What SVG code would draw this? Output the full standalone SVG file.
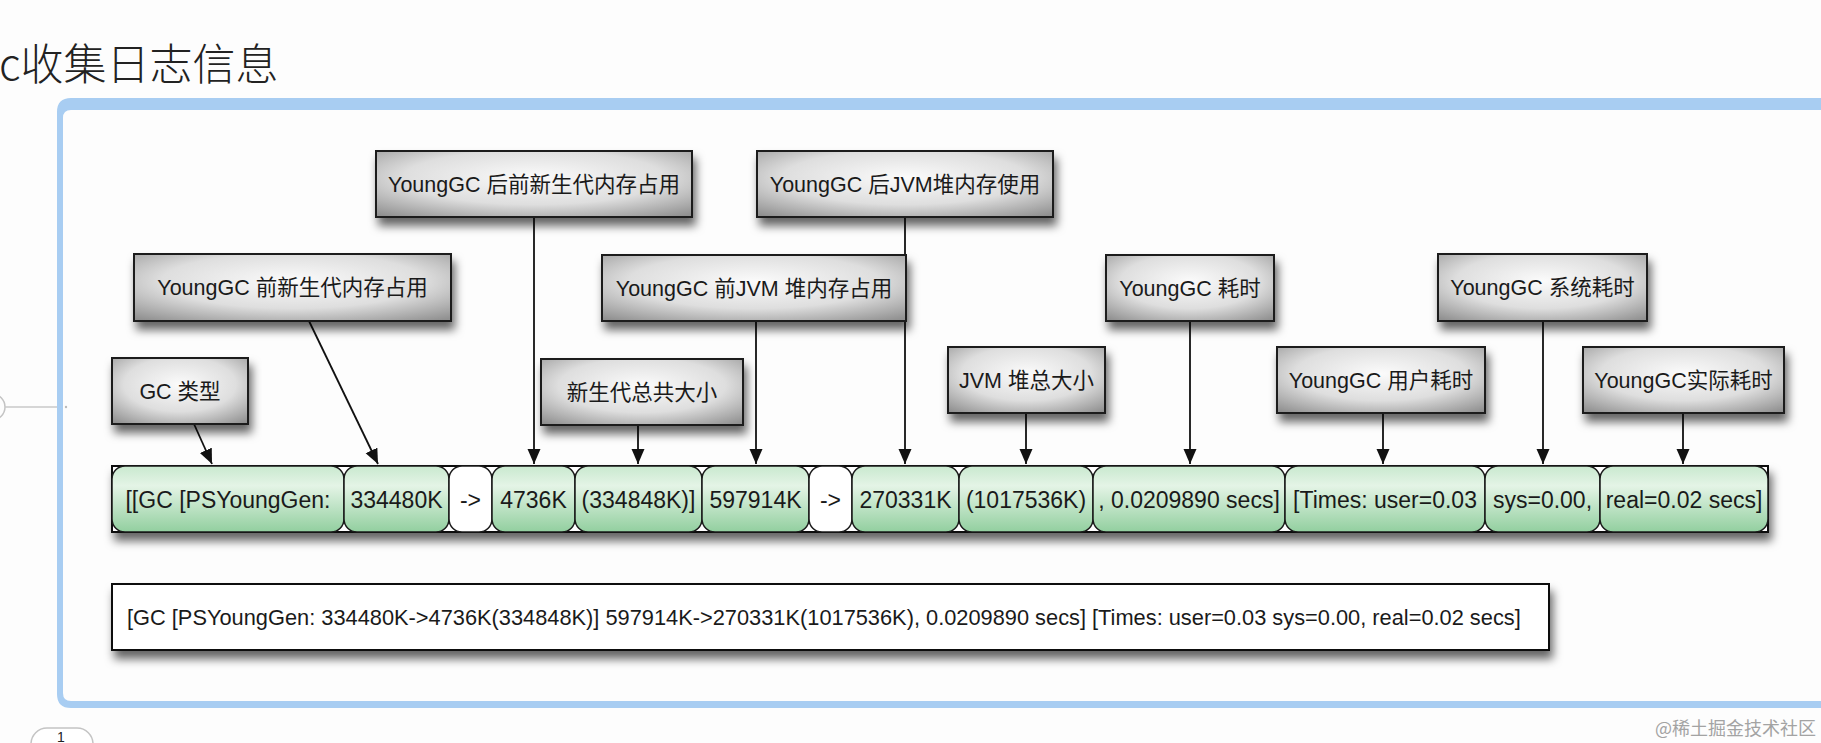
<svg xmlns="http://www.w3.org/2000/svg" width="1821" height="743" viewBox="0 0 1821 743">
<style>
.lbl{fill:url(#gray);stroke:#1a1a1a;stroke-width:2;filter:url(#sh)}
.lt{font-family:"Liberation Sans","Noto Sans CJK SC",sans-serif;font-size:21.5px;fill:#1a1a1a;text-anchor:middle}
.seg{fill:url(#green);stroke:#1a1a1a;stroke-width:1.5}
.segw{fill:#ffffff;stroke:#1a1a1a;stroke-width:1.5}
.st{font-family:"Liberation Sans","Noto Sans CJK SC",sans-serif;font-size:23px;fill:#1a1a1a;text-anchor:middle}
.conn line{stroke:#111;stroke-width:1.8;marker-end:url(#ah)}
</style>
<defs>
<radialGradient id="gray" cx="50%" cy="40%" r="75%">
<stop offset="0" stop-color="#fbfbfb"/>
<stop offset="0.55" stop-color="#dedede"/>
<stop offset="1" stop-color="#909090"/>
</radialGradient>
<linearGradient id="green" x1="0" y1="0" x2="0" y2="1">
<stop offset="0" stop-color="#c9e9cf"/>
<stop offset="0.3" stop-color="#e4f4e6"/>
<stop offset="1" stop-color="#92cf9f"/>
</linearGradient>
<filter id="sh" x="-10%" y="-20%" width="120%" height="160%">
<feDropShadow dx="3" dy="8" stdDeviation="5" flood-color="#000" flood-opacity="0.6"/>
</filter>
<marker id="ah" markerUnits="userSpaceOnUse" markerWidth="16" markerHeight="14" refX="15" refY="6.5" orient="auto">
<path d="M0,0 L15,6.5 L0,13 z" fill="#111"/>
</marker>
</defs>
<rect width="1821" height="743" fill="#fdfdfd"/>
<text x="-1" y="80" font-family="'Noto Sans CJK SC',sans-serif" font-weight="300" font-size="43" fill="#222">c收集日志信息</text>
<path fill="#a8cdf2" fill-rule="evenodd" d="M71,98 H1840 V708 H71 Q57,708 57,694 V112 Q57,98 71,98 Z M71,110 Q63,110 63,118 V693 Q63,701 71,701 H1834 V110 Z"/>
<circle cx="-8" cy="407" r="13" fill="none" stroke="#c4c4c4" stroke-width="1.5"/>
<line x1="5" y1="407" x2="57" y2="407" stroke="#c8c8c8" stroke-width="1.5"/>
<circle cx="66" cy="407" r="1.2" fill="#bbb"/>
<rect x="31" y="728" width="62" height="40" rx="16" fill="#fff" stroke="#c4c4c4" stroke-width="1.5"/>
<text x="61" y="742" font-family="'Liberation Sans',sans-serif" font-size="14" fill="#222" text-anchor="middle">1</text>
<text x="1655" y="735" font-family="'Noto Sans CJK SC',sans-serif" font-size="18" fill="#a3a3a3">@稀土掘金技术社区</text>

<g id="conns" class="conn">
<line x1="194" y1="424" x2="212" y2="464"/>
<line x1="309" y1="321" x2="378" y2="464"/>
<line x1="534" y1="217" x2="534" y2="464"/>
<line x1="638" y1="425" x2="638" y2="464"/>
<line x1="756" y1="321" x2="756" y2="464"/>
<line x1="905" y1="217" x2="905" y2="464"/>
<line x1="1026" y1="413" x2="1026" y2="464"/>
<line x1="1190" y1="321" x2="1190" y2="464"/>
<line x1="1383" y1="413" x2="1383" y2="464"/>
<line x1="1543" y1="321" x2="1543" y2="464"/>
<line x1="1683" y1="413" x2="1683" y2="464"/>
</g>

<g id="n-b1"><rect class="lbl" x="376" y="151" width="316" height="66"/><text class="lt" x="534" y="192">YoungGC 后前新生代内存占用</text></g>
<g id="n-b2"><rect class="lbl" x="757" y="151" width="296" height="66"/><text class="lt" x="905" y="192">YoungGC 后JVM堆内存使用</text></g>
<g id="n-b3"><rect class="lbl" x="134" y="254" width="317" height="67"/><text class="lt" x="292.5" y="295">YoungGC 前新生代内存占用</text></g>
<g id="n-b4"><rect class="lbl" x="602" y="255" width="304" height="66"/><text class="lt" x="754" y="296">YoungGC 前JVM 堆内存占用</text></g>
<g id="n-b5"><rect class="lbl" x="1106" y="255" width="168" height="66"/><text class="lt" x="1190" y="296">YoungGC 耗时</text></g>
<g id="n-b6"><rect class="lbl" x="1438" y="254" width="209" height="67"/><text class="lt" x="1542.5" y="295">YoungGC 系统耗时</text></g>
<g id="n-b7"><rect class="lbl" x="112" y="358" width="136" height="66"/><text class="lt" x="180" y="399">GC 类型</text></g>
<g id="n-b8"><rect class="lbl" x="541" y="359" width="202" height="66"/><text class="lt" x="642" y="400">新生代总共大小</text></g>
<g id="n-b9"><rect class="lbl" x="948" y="347" width="157" height="66"/><text class="lt" x="1026.5" y="388">JVM 堆总大小</text></g>
<g id="n-b10"><rect class="lbl" x="1277" y="347" width="208" height="66"/><text class="lt" x="1381" y="388">YoungGC 用户耗时</text></g>
<g id="n-b11"><rect class="lbl" x="1583" y="347" width="201" height="66"/><text class="lt" x="1683.5" y="388">YoungGC实际耗时</text></g>

<g id="n-bar">
<rect x="112" y="466" width="1656" height="66" fill="#fff" stroke="#111" stroke-width="2" filter="url(#sh)"/>
<rect class="seg" x="112" y="466" width="232" height="66" rx="13"/><text class="st" x="228" y="508">[[GC [PSYoungGen:</text>
<rect class="seg" x="344" y="466" width="105" height="66" rx="13"/><text class="st" x="396.5" y="508">334480K</text>
<rect class="segw" x="449" y="466" width="43" height="66" rx="13"/><text class="st" x="470.5" y="508">-&gt;</text>
<rect class="seg" x="492" y="466" width="83" height="66" rx="13"/><text class="st" x="533.5" y="508">4736K</text>
<rect class="seg" x="575" y="466" width="127" height="66" rx="13"/><text class="st" x="638.5" y="508">(334848K)]</text>
<rect class="seg" x="702" y="466" width="107" height="66" rx="13"/><text class="st" x="755.5" y="508">597914K</text>
<rect class="segw" x="809" y="466" width="43" height="66" rx="13"/><text class="st" x="830.5" y="508">-&gt;</text>
<rect class="seg" x="852" y="466" width="107" height="66" rx="13"/><text class="st" x="905.5" y="508">270331K</text>
<rect class="seg" x="959" y="466" width="134" height="66" rx="13"/><text class="st" x="1026" y="508">(1017536K)</text>
<rect class="seg" x="1093" y="466" width="192" height="66" rx="13"/><text class="st" x="1189" y="508">, 0.0209890 secs]</text>
<rect class="seg" x="1285" y="466" width="200" height="66" rx="13"/><text class="st" x="1385" y="508">[Times: user=0.03</text>
<rect class="seg" x="1485" y="466" width="115" height="66" rx="13"/><text class="st" x="1542.5" y="508">sys=0.00,</text>
<rect class="seg" x="1600" y="466" width="168" height="66" rx="13"/><text class="st" x="1684" y="508">real=0.02 secs]</text>
</g>

<g id="n-log">
<rect x="112" y="584" width="1437" height="66" fill="#fff" stroke="#111" stroke-width="2" filter="url(#sh)"/>
<text x="127" y="625" font-family="'Liberation Sans',sans-serif" font-size="21.8" fill="#1a1a1a">[GC [PSYoungGen: 334480K-&gt;4736K(334848K)] 597914K-&gt;270331K(1017536K), 0.0209890 secs] [Times: user=0.03 sys=0.00, real=0.02 secs]</text>
</g>
</svg>
